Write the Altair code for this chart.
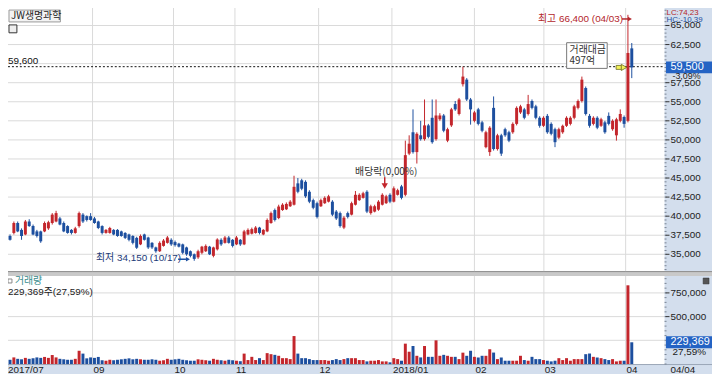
import altair as alt
import pandas as pd

# ---------------- data (prices in thousand won, volume in thousand shares) -------------
opens = [
36.9, 37.4, 37.8, 39.1, 38.2, 37.6, 39.3, 38.7, 38.0, 38.0,
38.0, 38.4, 39.1, 39.3, 39.7, 39.1, 38.7, 38.2, 37.8, 38.7,
40.2, 40.0, 40.0, 39.7, 39.3, 38.7, 37.8, 37.8, 38.2, 38.2,
38.0, 37.8, 37.6, 37.4, 37.15, 36.3, 37.6, 37.2, 36.5, 35.9,
35.4, 36.1, 36.5, 36.9, 36.6, 36.4, 36.3, 35.9, 35.4, 35.0,
34.6, 35.2, 35.4, 36.0, 34.8, 35.65, 36.9, 36.5, 37.2, 36.9,
36.3, 36.9, 36.3, 37.6, 37.7, 37.8, 38.5, 37.6, 38.0, 39.1,
40.8, 39.75, 40.8, 40.9, 41.3, 41.5, 44.3, 44.7, 44.5, 43.2,
42.1, 41.7, 41.3, 41.7, 41.9, 41.9, 40.6, 40.4, 38.5, 40.4,
40.2, 41.5, 42.1, 42.4, 43.2, 40.4, 40.6, 40.85, 41.5, 41.7,
42.8, 41.9, 42.8, 43.9, 42.8, 48.2, 51.0, 48.4, 50.6, 50.1,
51.9, 52.9, 50.1, 52.7, 53.2, 49.9, 51.9, 54.7, 53.4, 57.3,
57.9, 55.3, 52.5, 54.0, 52.3, 49.05, 48.4, 54.2, 48.8, 50.6,
51.4, 51.0, 51.0, 52.1, 53.6, 54.0, 53.4, 55.1, 54.4, 52.9,
51.85, 53.15, 52.1, 51.4, 50.3, 51.0, 51.85, 52.1, 52.9, 54.2,
55.1, 56.8, 53.15, 52.1, 52.9, 51.85, 52.3, 53.15, 51.4, 50.6,
52.5, 53.0, 52.5, 62.0]
highs = [
38.2, 37.6, 39.3, 39.3, 38.4, 39.5, 39.6, 38.9, 38.2, 38.1,
39.3, 39.4, 40.4, 40.7, 39.9, 39.3, 38.8, 38.3, 38.6, 40.6,
40.4, 40.1, 40.4, 39.9, 39.4, 38.8, 38.3, 38.6, 38.3, 38.3,
38.1, 37.9, 37.7, 37.5, 37.3, 37.6, 37.7, 37.3, 36.6, 36.0,
36.7, 37.0, 37.4, 37.1, 36.8, 36.5, 36.4, 36.0, 35.5, 35.1,
35.6, 36.1, 36.3, 36.1, 36.0, 37.1, 37.1, 37.4, 37.4, 37.0,
37.4, 37.0, 38.2, 38.4, 38.5, 38.7, 38.6, 38.3, 39.7, 40.6,
41.0, 41.5, 41.7, 41.8, 42.1, 45.3, 45.0, 44.9, 44.7, 43.4,
42.3, 41.9, 42.3, 42.6, 42.8, 42.1, 40.8, 40.6, 40.0, 40.6,
41.9, 43.3, 43.0, 43.2, 43.4, 41.5, 41.5, 42.1, 43.0, 42.8,
43.0, 43.9, 43.6, 44.1, 49.9, 50.6, 54.0, 51.0, 52.5, 55.3,
52.1, 55.3, 55.3, 53.5, 53.4, 51.6, 54.2, 55.1, 55.5, 59.6,
58.1, 55.5, 53.8, 54.2, 52.5, 51.2, 51.8, 55.7, 50.8, 50.8,
51.6, 51.2, 52.3, 54.4, 54.6, 54.2, 55.9, 55.3, 54.6, 53.1,
53.1, 53.4, 52.3, 51.6, 51.6, 52.0, 53.1, 53.1, 54.6, 55.3,
58.3, 57.0, 53.4, 53.1, 53.1, 52.9, 52.5, 53.6, 52.7, 52.9,
54.0, 53.2, 66.4, 62.7]
lows = [
36.8, 36.8, 37.6, 37.9, 36.9, 37.5, 38.6, 37.5, 37.2, 36.5,
37.9, 38.2, 38.9, 39.2, 38.8, 37.9, 37.7, 37.6, 37.7, 38.5,
39.1, 39.3, 39.4, 39.0, 38.3, 37.6, 37.7, 37.7, 37.5, 37.3,
37.3, 37.0, 36.7, 36.3, 35.7, 36.2, 36.8, 35.7, 35.7, 35.2,
35.3, 36.0, 36.4, 36.1, 36.0, 35.9, 35.0, 34.8, 34.6, 34.15,
34.4, 35.0, 35.3, 34.9, 34.6, 35.5, 36.1, 36.4, 36.4, 35.9,
36.2, 36.1, 36.2, 37.5, 37.6, 37.7, 37.6, 37.5, 37.9, 39.0,
39.3, 39.6, 40.7, 40.8, 41.2, 41.4, 43.0, 43.4, 42.4, 41.7,
40.9, 39.7, 41.2, 41.6, 41.8, 40.0, 39.5, 38.5, 38.3, 39.7,
40.1, 41.4, 42.0, 42.3, 40.4, 40.2, 40.5, 40.7, 41.4, 41.6,
41.7, 41.8, 42.7, 42.2, 42.6, 48.0, 48.2, 46.9, 49.9, 49.9,
50.2, 49.5, 49.9, 52.5, 51.0, 49.7, 51.7, 53.8, 53.2, 57.0,
55.1, 52.0, 52.3, 51.9, 51.0, 48.9, 47.9, 48.6, 48.6, 47.9,
50.4, 49.7, 50.8, 51.9, 53.4, 52.7, 53.2, 54.0, 52.7, 51.6,
51.7, 50.8, 50.6, 49.05, 50.1, 50.8, 51.7, 51.9, 52.7, 54.0,
54.9, 53.2, 51.6, 51.9, 51.4, 51.7, 50.8, 51.9, 51.2, 49.9,
52.3, 51.6, 52.3, 58.1]
closes = [
38.0, 36.9, 39.1, 38.0, 37.4, 39.3, 38.7, 37.6, 37.4, 36.7,
39.1, 39.2, 40.2, 40.4, 38.9, 38.0, 37.8, 37.8, 38.4, 40.4,
39.3, 39.5, 39.5, 39.1, 38.45, 37.8, 38.2, 38.45, 37.6, 37.4,
37.4, 37.15, 36.9, 36.5, 35.86, 37.4, 36.9, 35.9, 35.9, 35.4,
36.5, 36.8, 37.2, 36.3, 36.2, 36.0, 35.2, 35.0, 34.8, 34.4,
35.4, 36.0, 36.1, 35.0, 35.9, 36.94, 36.3, 37.2, 36.5, 36.1,
37.2, 36.3, 38.0, 38.2, 38.3, 38.5, 37.8, 38.2, 39.5, 40.4,
39.5, 41.26, 41.5, 41.6, 41.9, 43.85, 43.2, 43.6, 42.6, 41.9,
41.1, 39.9, 42.1, 42.4, 42.6, 40.2, 39.7, 38.7, 39.8, 39.9,
41.7, 42.8, 42.8, 43.0, 40.6, 41.3, 41.3, 41.9, 42.8, 42.6,
41.9, 43.65, 43.4, 42.4, 48.0, 49.5, 48.4, 50.8, 50.1, 51.9,
50.4, 49.7, 53.2, 53.2, 51.2, 51.4, 54.0, 54.0, 55.3, 58.3,
55.3, 54.0, 53.6, 52.1, 51.2, 51.0, 51.6, 48.8, 50.6, 48.2,
50.6, 49.9, 52.1, 54.2, 54.4, 52.9, 54.7, 54.2, 52.9, 51.85,
52.9, 51.0, 50.8, 49.7, 51.4, 51.85, 52.9, 52.9, 54.4, 55.1,
57.9, 53.4, 51.85, 52.9, 51.6, 52.7, 51.0, 52.1, 52.5, 52.7,
53.4, 52.1, 61.4, 59.5]
volumes = [
60, 45, 70, 55, 50, 65, 55, 60, 70, 65,
75, 65, 95, 70, 55, 50, 45, 45, 55, 140,
110, 60, 70, 65, 75, 40, 35, 45, 40, 45,
50, 55, 60, 50, 55, 50, 45, 45, 50, 45,
35, 40, 55, 45, 50, 55, 45, 40, 35, 35,
50, 45, 40, 35, 55, 45, 40, 35, 45, 40,
35, 30, 110, 42, 76, 42, 62, 42, 115, 104,
97, 87, 62, 62, 52, 295, 110, 62, 62, 52,
42, 42, 42, 42, 35, 42, 52, 42, 52, 62,
62, 62, 42, 42, 28, 35, 35, 42, 28, 28,
18, 62, 52, 35, 215, 130, 190, 87, 70, 190,
76, 76, 250, 87, 97, 87, 76, 76, 52, 120,
87, 140, 76, 69, 87, 87, 156, 121, 52, 69,
35, 35, 35, 35, 87, 42, 35, 76, 52, 52,
42, 35, 28, 35, 62, 42, 62, 35, 52, 52,
52, 104, 111, 76, 69, 62, 52, 42, 52, 28,
35, 35, 830, 229.369]

month_pos = [22.5, 43.6, 59.6, 81.4, 100.5, 122.0, 140.1, 161.4]
month_labels = ["09", "10", "11", "12", "2018/01", "02", "03", "04"]
price_ticks = [35000, 37500, 40000, 42500, 45000, 47500, 50000, 52500,
               55000, 57500, 60000, 62500, 65000]
price_labels = [35000, 37500, 40000, 42500, 45000, 47500, 50000, 52500,
                55000, 57500, 62500, 65000]   # 60,000 is hidden behind the last-price box
vol_grid = [250000, 500000, 750000]
vol_labels = [500000, 750000]
last_price = 59500
last_volume = 229369
ref_line = 59600

# ---------------- styling -------------
RED = "#c3262c"
BLUE = "#1d4f9f"
PANEL = "#d3deed"
GRID = "#dadada"
NUMF = "Liberation Sans Narrow, Liberation Sans, Noto Sans CJK KR"
KF = "Noto Sans CJK KR"

df = pd.DataFrame({
    "d": list(range(len(closes))),
    "o": [v * 1000 for v in opens],
    "h": [v * 1000 for v in highs],
    "l": [v * 1000 for v in lows],
    "c": [v * 1000 for v in closes],
    "vol": [v * 1000 for v in volumes],
})
df["dir"] = ["up" if c >= o else "down" for o, c in zip(df["o"], df["c"])]

xs = alt.Scale(domain=[-0.3, 170.25], nice=False, zero=False)
ysp = alt.Scale(domain=[32796, 68060], range=[272, 0], nice=False, zero=False)
ysv = alt.Scale(domain=[0, 938000], range=[366, 276], nice=False, zero=False)
col = alt.Color("dir:N", scale=alt.Scale(domain=["up", "down"], range=[RED, BLUE]), legend=None)
X = alt.X("d:Q", scale=xs, axis=None)

one = pd.DataFrame({"a": [0]})


def rect(x1, x2, y1, y2, **kw):
    return alt.Chart(one).mark_rect(**kw).encode(
        x=alt.value(x1), x2=alt.value(x2), y=alt.value(y1), y2=alt.value(y2))


def hline(x1, x2, y, **kw):
    return alt.Chart(one).mark_rule(**kw).encode(
        x=alt.value(x1), x2=alt.value(x2), y=alt.value(y))


def txt(x, y, s, size=11, color="#222", font=NUMF, align="left", **kw):
    return alt.Chart(one).mark_text(text=s, align=align, baseline="middle",
                                    fontSize=size, color=color, font=font, **kw).encode(
        x=alt.value(x), y=alt.value(y))


layers = []
# panels / backgrounds
layers.append(rect(672, 720, 0, 376, color=PANEL))
layers.append(rect(0, 720, 367, 376, color=PANEL))
layers.append(hline(0, 720, 366.5, color="#9aa6b6"))
layers.append(rect(0, 720, 272, 277, color="#c9c9c9"))
layers.append(hline(0, 720, 272.5, color="#8e8e8e"))
layers.append(hline(0, 720, 0.5, color="#9c9c9c"))

# grids
mdf = pd.DataFrame({"pos": month_pos, "lab": month_labels})
layers.append(alt.Chart(mdf).mark_rule(color=GRID).encode(
    x=alt.X("pos:Q", scale=xs, axis=None), y=alt.value(1), y2=alt.value(272)))
layers.append(alt.Chart(mdf).mark_rule(color=GRID).encode(
    x=alt.X("pos:Q", scale=xs, axis=None), y=alt.value(277), y2=alt.value(366)))
pdf = pd.DataFrame({"v": price_ticks})
pldf = pd.DataFrame({"v": price_labels, "lab": [f"{v:,}" for v in price_labels]})
layers.append(alt.Chart(pdf).mark_rule(color=GRID).encode(
    y=alt.Y("v:Q", scale=ysp, axis=None), x=alt.value(0), x2=alt.value(672)))
vgdf = pd.DataFrame({"v": vol_grid})
layers.append(alt.Chart(vgdf).mark_rule(color=GRID).encode(
    y=alt.Y("v:Q", scale=ysv, axis=None), x=alt.value(0), x2=alt.value(672)))

# axis ticks and labels (price)
minor_p = pd.DataFrame({"v": list(range(33000, 68001, 500))})
layers.append(alt.Chart(minor_p).mark_rule(color="#7a8594").encode(
    y=alt.Y("v:Q", scale=ysp, axis=None), x=alt.value(672), x2=alt.value(674)))
layers.append(alt.Chart(pdf).mark_rule(color="#333").encode(
    y=alt.Y("v:Q", scale=ysp, axis=None), x=alt.value(673), x2=alt.value(677)))
layers.append(alt.Chart(pldf).mark_text(align="left", baseline="middle", fontSize=10,
                                        font=NUMF, color="#222").encode(
    y=alt.Y("v:Q", scale=ysp, axis=None), x=alt.value(678), text="lab:N"))

# axis ticks and labels (volume)
minor_v = pd.DataFrame({"v": list(range(0, 938001, 50000))})
layers.append(alt.Chart(minor_v).mark_rule(color="#7a8594").encode(
    y=alt.Y("v:Q", scale=ysv, axis=None), x=alt.value(672), x2=alt.value(674)))
vldf = pd.DataFrame({"v": vol_labels, "lab": [f"{v:,}" for v in vol_labels]})
layers.append(alt.Chart(vldf).mark_rule(color="#333").encode(
    y=alt.Y("v:Q", scale=ysv, axis=None), x=alt.value(673), x2=alt.value(677)))
layers.append(alt.Chart(vldf).mark_text(align="left", baseline="middle", fontSize=10,
                                        font=NUMF, color="#222").encode(
    y=alt.Y("v:Q", scale=ysv, axis=None), x=alt.value(678), text="lab:N"))

# month labels in bottom band
layers.append(alt.Chart(mdf).mark_text(align="left", baseline="middle", fontSize=10,
                                       font=NUMF, color="#222", dx=1).encode(
    x=alt.X("pos:Q", scale=xs, axis=None), y=alt.value(372), text="lab:N"))
layers.append(txt(8, 372, "2017/07", size=10))
layers.append(txt(678, 372, "04/04", size=10))

# reference dotted line
rdf = pd.DataFrame({"v": [ref_line], "lab": [f"{ref_line:,}"]})
layers.append(alt.Chart(rdf).mark_rule(color="#111", strokeDash=[2, 2]).encode(
    y=alt.Y("v:Q", scale=ysp, axis=None), x=alt.value(0), x2=alt.value(672)))
layers.append(alt.Chart(rdf).mark_text(align="left", baseline="bottom", fontSize=10,
                                       font=NUMF, color="#111", dy=-1).encode(
    y=alt.Y("v:Q", scale=ysp, axis=None), x=alt.value(8), text="lab:N"))

# candles
layers.append(alt.Chart(df).mark_rule(strokeWidth=1).encode(
    x=X, y=alt.Y("l:Q", scale=ysp, axis=None), y2="h:Q", color=col))
layers.append(alt.Chart(df).mark_bar(size=3).encode(
    x=X, y=alt.Y("o:Q", scale=ysp, axis=None), y2="c:Q", color=col))

# volume bars
layers.append(alt.Chart(df).mark_bar(size=3).encode(
    x=X, y=alt.Y("vol:Q", scale=ysv, axis=None), color=col))

# last price box / last volume box
lp = pd.DataFrame({"v": [last_price], "lab": [f"{last_price:,}"]})
layers.append(alt.Chart(lp).mark_tick(orient="horizontal", size=47, thickness=12,
                                      color="#2463c4", opacity=1).encode(
    y=alt.Y("v:Q", scale=ysp, axis=None), x=alt.value(697)))
layers.append(alt.Chart(lp).mark_text(align="left", baseline="middle", fontSize=11,
                                      font=NUMF, color="white").encode(
    y=alt.Y("v:Q", scale=ysp, axis=None), x=alt.value(678), text="lab:N"))
layers.append(txt(680, 74.5, "-3,09%", size=9))
lv = pd.DataFrame({"v": [last_volume], "lab": [f"{last_volume:,}"]})
layers.append(alt.Chart(lv).mark_tick(orient="horizontal", size=47, thickness=12,
                                      color="#2463c4", opacity=1).encode(
    y=alt.Y("v:Q", scale=ysv, axis=None), x=alt.value(697)))
layers.append(alt.Chart(lv).mark_text(align="left", baseline="middle", fontSize=11,
                                      font=NUMF, color="white").encode(
    y=alt.Y("v:Q", scale=ysv, axis=None), x=alt.value(678), text="lab:N"))
layers.append(txt(680, 354, "27,59%", size=10))

# header texts (kept inside the visible page area)
layers.append(rect(9, 61, 8, 20, color="#f3f3f3", stroke="#999", strokeWidth=1))
layers.append(txt(11, 14, "JW생명과학", size=10, font=KF, color="#222"))
layers.append(rect(9, 17, 23, 31, color="#eeeeee", stroke="#333", strokeWidth=1))
layers.append(txt(674, 11, "LC:74,23", size=8, color="#b3262b"))
layers.append(txt(674, 18.5, "HC:-10,39", size=8, color="#1d4f9f"))

# high annotation
layers.append(txt(544, 17, "최고 66,400 (04/03)", size=10, color="#b3262b"))
layers.append(hline(629, 636, 17, color="#b3262b", strokeWidth=1.5))
layers.append(alt.Chart(one).mark_point(shape="triangle-right", filled=True, size=22,
                                        color="#b3262b", opacity=1).encode(
    x=alt.value(637), y=alt.value(17)))

# trading value box
layers.append(rect(573, 614, 41, 67, color="white", stroke="#777", strokeWidth=1))
layers.append(txt(576, 48, "거래대금", size=10, font=KF, color="#333"))
layers.append(txt(576, 60, "497억", size=10, font=KF, color="#333"))
layers.append(rect(623, 629, 64, 68, color="#f2f05a", stroke="#6b6b20", strokeWidth=0.8))
layers.append(alt.Chart(one).mark_point(shape="triangle-right", filled=True, size=40,
                                        color="#f2f05a", stroke="#6b6b20", strokeWidth=0.8,
                                        opacity=1).encode(
    x=alt.value(631), y=alt.value(66)))

# ex-dividend annotation
layers.append(txt(359, 172, "배당락(0,00%)", size=10, font=KF, color="#333"))
layers.append(alt.Chart(one).mark_rule(color="#c3262c", strokeWidth=1.5).encode(
    x=alt.value(389), y=alt.value(177), y2=alt.value(184)))
layers.append(alt.Chart(one).mark_point(shape="triangle-down", filled=True, size=40,
                                        color="#c3262c", opacity=1).encode(
    x=alt.value(389), y=alt.value(186)))

# low annotation
layers.append(txt(97, 259, "최저 34,150 (10/17)", size=10, color="#1b3a78"))
layers.append(hline(180, 188, 260, color="#1d4f9f", strokeWidth=1.5))
layers.append(alt.Chart(one).mark_point(shape="triangle-right", filled=True, size=22,
                                        color="#1d4f9f", opacity=1).encode(
    x=alt.value(190), y=alt.value(260)))

# volume panel texts
layers.append(rect(8, 12, 280, 284, color="white", stroke="#888", strokeWidth=1))
layers.append(txt(15, 282, "거래량", size=10, font=KF, color="#3a8c8c"))
layers.append(txt(8, 293, "229,369주(27,59%)", size=10, color="#222"))
layers.append(rect(711, 717, 279, 285, color="#555", stroke="#333", strokeWidth=0.5))

chart = alt.layer(*layers).resolve_scale(y="independent").properties(
    width=672, height=376,
    autosize=alt.AutoSizeParams(type="none"),
    padding={"left": -8, "top": -8, "right": 48, "bottom": 0},
).configure_view(stroke=None)

chart.save("out.html", embed_options={"renderer": "svg", "actions": False})
